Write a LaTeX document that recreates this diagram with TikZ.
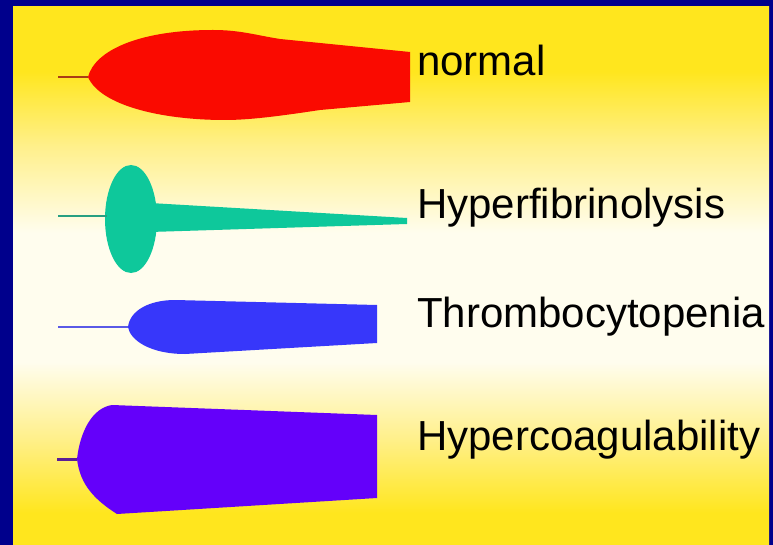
\documentclass[tikz,border=0pt]{standalone}
\usepackage{fontspec}
\setmainfont{Liberation Sans}
\definecolor{navy}{RGB}{0,0,140}
\definecolor{yelA}{RGB}{255,230,30}
\definecolor{yelB}{RGB}{255,240,140}
\definecolor{cream}{RGB}{255,253,238}
\definecolor{clotred}{RGB}{250,10,0}
\definecolor{stemred}{RGB}{170,60,20}
\definecolor{clotteal}{RGB}{14,200,155}
\definecolor{stemteal}{RGB}{40,160,130}
\definecolor{clotblue}{RGB}{55,55,250}
\definecolor{stemblue}{RGB}{90,90,230}
\definecolor{clotpurple}{RGB}{100,0,250}
\definecolor{stempurple}{RGB}{90,30,150}
\pgfdeclareverticalshading{bgshade}{100bp}{color(0bp)=(yelA); color(25bp)=(yelA); color(28bp)=(yelA); color(35bp)=(yelB); color(42bp)=(cream); color(54bp)=(cream); color(62bp)=(yelB); color(69bp)=(yelA); color(75bp)=(yelA); color(100bp)=(yelA)}
\begin{document}
\begin{tikzpicture}[x=1pt,y=-1pt,
  label/.style={anchor=base west,inner sep=0pt,font=\fontsize{42}{42}\selectfont,text=black},
  stem/.style={line width=2.4pt}]
\useasboundingbox (0,0) rectangle (773,545);
\fill[navy] (0,0) rectangle (773,545);
\shade[shading=bgshade] (13,7) rectangle (769,545);
% normal
\coordinate (rs) at (58,77);
\coordinate (rn) at (88,77);
\fill[clotred] (rn) .. controls (95,50) and (140,30) .. (213,30)
  .. controls (240,30) and (255,35) .. (280,39) -- (410,52) -- (410,102) -- (320,110)
  .. controls (280,116) and (250,120) .. (225,120)
  .. controls (160,120) and (100,105) .. (rn) -- cycle;
\draw[stem,stemred] (rs) -- (rn);
% hyperfibrinolysis
\coordinate (ts) at (58,216);
\coordinate (tn) at (107,216);
\fill[clotteal] (150,203) -- (407,218) -- (407,224) -- (150,232) -- cycle;
\fill[clotteal] (131,219) ellipse [x radius=26,y radius=54];
\draw[stem,stemteal] (ts) -- (tn);
% thrombocytopenia
\coordinate (bs) at (58,327);
\coordinate (bn) at (128,327);
\fill[clotblue] (bn) .. controls (130,310) and (150,300) .. (175,300) -- (377,305) -- (377,343) -- (185,354)
  .. controls (150,354) and (130,340) .. (bn) -- cycle;
\draw[stem,stemblue] (bs) -- (bn);
% hypercoagulability
\coordinate (ps) at (57,459);
\coordinate (pn) at (77,459);
\fill[clotpurple] (112,405) -- (377,415) -- (377,498) -- (117,514)
  .. controls (95,500) and (80,485) .. (pn)
  .. controls (80,432) and (92,408) .. (112,405) -- cycle;
\draw[stem,stempurple,line width=3pt] (ps) -- (pn);
% labels
\node[label] (l1) at (417,76) {normal};
\node[label] (l2) at (417,219) {Hyperfibrinolysis};
\node[label] (l3) at (417,327) {Thrombocytopenia};
\node[label] (l4) at (417,450) {Hypercoagulability};
\end{tikzpicture}
\end{document}
